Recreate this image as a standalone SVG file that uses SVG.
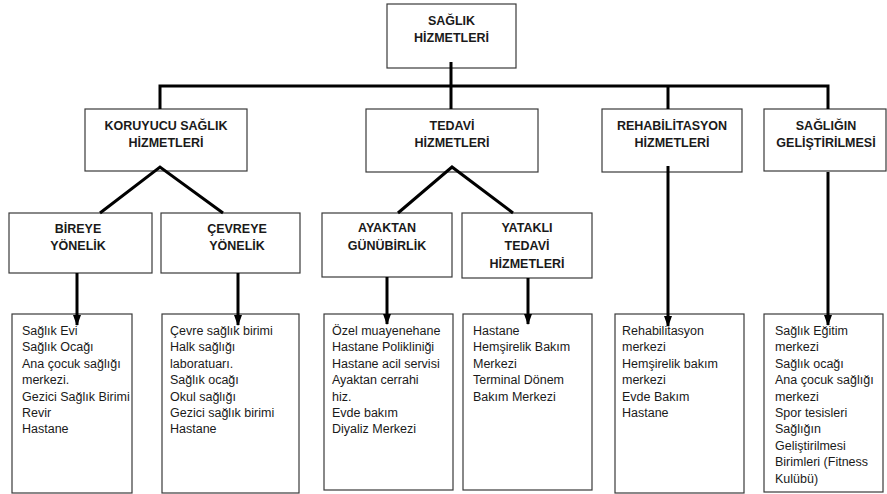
<svg xmlns="http://www.w3.org/2000/svg" width="887" height="494" viewBox="0 0 887 494">
<defs>
<style>
.box{fill:#fff;stroke:#3a3a3a;stroke-width:1.2}
.h{font-family:"Liberation Sans",Arial,sans-serif;font-weight:bold;font-size:12.5px;fill:#1a1a1a;text-anchor:middle}
.t{font-family:"Liberation Sans",Arial,sans-serif;font-size:12.5px;fill:#1a1a1a}
.c{stroke:#000;stroke-width:3;fill:none}
</style>
<marker id="ar" viewBox="0 0 11 8" refX="10" refY="4" markerWidth="11" markerHeight="8" orient="auto" markerUnits="userSpaceOnUse">
<path d="M0,0 L11,4 L0,8 z" fill="#000"/>
</marker>
</defs>
<g id="n-saglik">
<rect class="box" x="387" y="4" width="129" height="64"/>
<text class="h" x="451.5" y="24.5">SAĞLIK</text>
<text class="h" x="451.5" y="41.5">HİZMETLERİ</text>
</g>
<g id="n-koruyucu">
<rect class="box" x="85" y="109" width="162" height="62"/>
<text class="h" x="166" y="129.5">KORUYUCU SAĞLIK</text>
<text class="h" x="166" y="146.5">HİZMETLERİ</text>
</g>
<g id="n-tedavi">
<rect class="box" x="366" y="109" width="172" height="63"/>
<text class="h" x="452" y="129.5">TEDAVİ</text>
<text class="h" x="452" y="146.5">HİZMETLERİ</text>
</g>
<g id="n-rehab">
<rect class="box" x="602" y="109" width="140" height="63"/>
<text class="h" x="672" y="129.5">REHABİLİTASYON</text>
<text class="h" x="672" y="146.5">HİZMETLERİ</text>
</g>
<g id="n-gelistirme">
<rect class="box" x="764" y="109" width="122" height="62"/>
<text class="h" x="826" y="129.5">SAĞLIĞIN</text>
<text class="h" x="826" y="146.5">GELİŞTİRİLMESİ</text>
</g>
<g id="n-bireye">
<rect class="box" x="9" y="213" width="143" height="60"/>
<text class="h" x="78" y="232.5">BİREYE</text>
<text class="h" x="78" y="249.5">YÖNELİK</text>
</g>
<g id="n-cevreye">
<rect class="box" x="161" y="213" width="139" height="60"/>
<text class="h" x="237" y="232.5">ÇEVREYE</text>
<text class="h" x="237" y="249.5">YÖNELİK</text>
</g>
<g id="n-ayaktan">
<rect class="box" x="322" y="213" width="130" height="64"/>
<text class="h" x="387" y="231.5">AYAKTAN</text>
<text class="h" x="387" y="249.5">GÜNÜBİRLİK</text>
</g>
<g id="n-yatakli">
<rect class="box" x="462" y="213" width="130" height="65"/>
<text class="h" x="527" y="231.5">YATAKLI</text>
<text class="h" x="527" y="249.5">TEDAVİ</text>
<text class="h" x="527" y="267.5">HİZMETLERİ</text>
</g>
<g id="l-bireye">
<rect class="box" x="12" y="314" width="120" height="179"/>
<text class="t" x="22" y="335">Sağlık Evi</text>
<text class="t" x="22" y="351.4">Sağlık Ocağı</text>
<text class="t" x="22" y="367.8">Ana çocuk sağlığı</text>
<text class="t" x="22" y="384.2">merkezi.</text>
<text class="t" x="22" y="400.6">Gezici Sağlık Birimi</text>
<text class="t" x="22" y="417">Revir</text>
<text class="t" x="22" y="433.4">Hastane</text>
</g>
<g id="l-cevreye">
<rect class="box" x="162" y="314" width="137" height="179"/>
<text class="t" x="170" y="335">Çevre sağlık birimi</text>
<text class="t" x="170" y="351.4">Halk sağlığı</text>
<text class="t" x="170" y="367.8">laboratuarı.</text>
<text class="t" x="170" y="384.2">Sağlık ocağı</text>
<text class="t" x="170" y="400.6">Okul sağlığı</text>
<text class="t" x="170" y="417">Gezici sağlık birimi</text>
<text class="t" x="170" y="433.4">Hastane</text>
</g>
<g id="l-ayaktan">
<rect class="box" x="324" y="314" width="129" height="176"/>
<text class="t" x="332" y="335">Özel muayenehane</text>
<text class="t" x="332" y="351.4">Hastane Polikliniği</text>
<text class="t" x="332" y="367.8">Hastane acil servisi</text>
<text class="t" x="332" y="384.2">Ayaktan cerrahi</text>
<text class="t" x="332" y="400.6">hiz.</text>
<text class="t" x="332" y="417">Evde bakım</text>
<text class="t" x="332" y="433.4">Diyaliz Merkezi</text>
</g>
<g id="l-yatakli">
<rect class="box" x="463" y="314" width="129" height="176"/>
<text class="t" x="473" y="335">Hastane</text>
<text class="t" x="473" y="351.4">Hemşirelik Bakım</text>
<text class="t" x="473" y="367.8">Merkezi</text>
<text class="t" x="473" y="384.2">Terminal Dönem</text>
<text class="t" x="473" y="400.6">Bakım Merkezi</text>
</g>
<g id="l-rehab">
<rect class="box" x="615" y="314" width="129" height="179"/>
<text class="t" x="622" y="335">Rehabilitasyon</text>
<text class="t" x="622" y="351.4">merkezi</text>
<text class="t" x="622" y="367.8">Hemşirelik bakım</text>
<text class="t" x="622" y="384.2">merkezi</text>
<text class="t" x="622" y="400.6">Evde Bakım</text>
<text class="t" x="622" y="417">Hastane</text>
</g>
<g id="l-gelistirme">
<rect class="box" x="764" y="314" width="119" height="178"/>
<text class="t" x="775" y="335">Sağlık Eğitim</text>
<text class="t" x="775" y="351.4">merkezi</text>
<text class="t" x="775" y="367.8">Sağlık ocağı</text>
<text class="t" x="775" y="384.2">Ana çocuk sağlığı</text>
<text class="t" x="775" y="400.6">merkezi</text>
<text class="t" x="775" y="417">Spor tesisleri</text>
<text class="t" x="775" y="433.4">Sağlığın</text>
<text class="t" x="775" y="449.8">Geliştirilmesi</text>
<text class="t" x="775" y="466.2">Birimleri (Fitness</text>
<text class="t" x="775" y="482.6">Kulübü)</text>
</g>
<g id="connectors">
<path class="c" d="M160,109 V86 H828 V109"/>
<path class="c" d="M451,62 V109"/>
<path class="c" d="M668,86 V109" stroke-width="4"/>
<path class="c" d="M100,213 L160,167 L223,213"/>
<path class="c" d="M398,213 L452,167 L513,213"/>
<path class="c" d="M77,273 V325" marker-end="url(#ar)"/>
<path class="c" d="M238,273 V325" marker-end="url(#ar)"/>
<path class="c" d="M387,277 V324" marker-end="url(#ar)"/>
<path class="c" d="M528,278 V324" marker-end="url(#ar)"/>
<path class="c" d="M668,166 V326" marker-end="url(#ar)"/>
<path class="c" d="M828,172 V325" marker-end="url(#ar)"/>
</g>
</svg>
